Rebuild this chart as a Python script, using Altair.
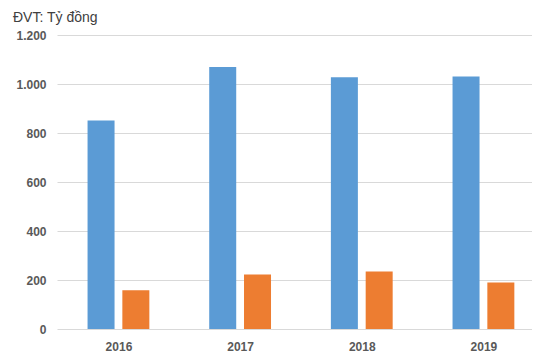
import altair as alt
import pandas as pd

years = [2016, 2017, 2018, 2019]
series_names = ["Chỉ tiêu 1", "Chỉ tiêu 2"]
blue_values = [851, 1069, 1028, 1031]
orange_values = [158, 222, 235, 190]
colors = ["#5B9BD5", "#ED7D31"]
y_ticks = [0, 200, 400, 600, 800, 1000, 1200]

rows = []
for y, b, o in zip(years, blue_values, orange_values):
    rows.append({"year": y, "series": series_names[0], "value": b})
    rows.append({"year": y, "series": series_names[1], "value": o})
df = pd.DataFrame(rows)

FONT = "Liberation Sans"

chart = (
    alt.Chart(df)
    .transform_calculate(
        xpos=f"datum.year + (datum.series == '{series_names[0]}' ? -0.143 : 0.143)"
    )
    .mark_bar(size=27)
    .encode(
        x=alt.X(
            "xpos:Q",
            scale=alt.Scale(domain=[2015.536, 2019.358], nice=False, zero=False),
            axis=alt.Axis(
                title=None, values=years, format="d", labelAngle=0,
                domain=False, ticks=False, grid=False,
                labelFont=FONT, labelFontSize=12, labelFontWeight="bold",
                labelColor="#595959", labelPadding=12,
            ),
        ),
        y=alt.Y(
            "value:Q",
            scale=alt.Scale(domain=[0, 1200], nice=False),
            axis=alt.Axis(
                title=None, values=y_ticks, domain=False, ticks=False,
                labelExpr="replace(format(datum.value, ','), ',', '.')",
                labelFont=FONT, labelFontSize=12, labelFontWeight="bold",
                labelColor="#595959", labelPadding=11,
                gridColor="#D9D9D9", gridWidth=1,
            ),
        ),
        color=alt.Color(
            "series:N", sort=series_names,
            scale=alt.Scale(domain=series_names, range=colors), legend=None,
        ),
    )
    .properties(
        width=524,
        height=344,
        padding={"left": 5, "top": 3, "right": 0, "bottom": 0},
        autosize=alt.AutoSizeParams(type="fit", contains="padding"),
        title=alt.TitleParams(
            "ĐVT: Tỷ đồng", anchor="start", frame="group", dx=-44,
            font=FONT, fontSize=14, fontWeight="normal", color="#404040",
            offset=4,
        ),
    )
    .configure_view(stroke=None)
)

chart.save("out.html", embed_options={"renderer": "svg", "actions": False})
